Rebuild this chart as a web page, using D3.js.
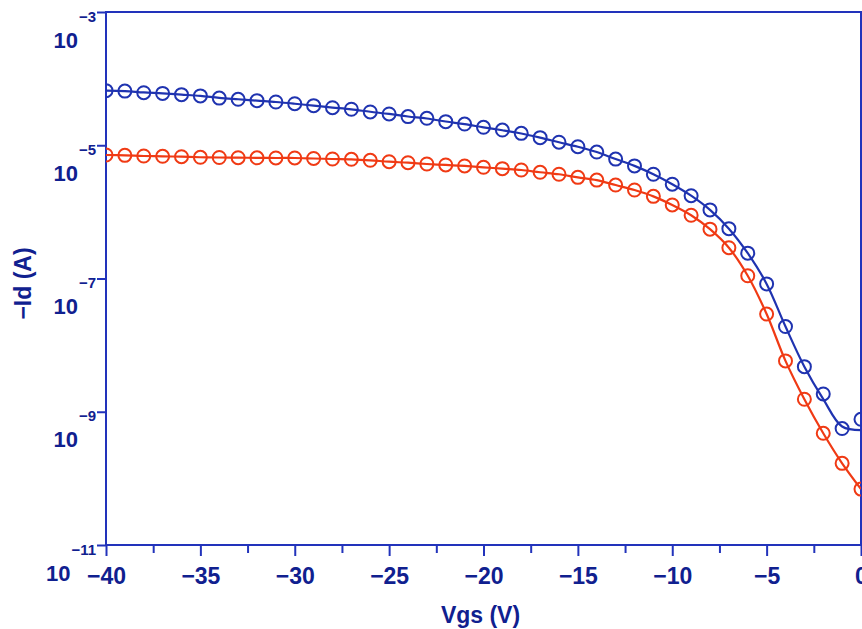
<!DOCTYPE html>
<html>
<head>
<meta charset="utf-8">
<script src="https://cdn.jsdelivr.net/npm/d3@7"></script>
<style>
  body { margin: 0; background: #fff; }
  svg { display: block; }
  text { font-family: "Liberation Sans", Arial, sans-serif; font-weight: bold; fill: #10208f; }
</style>
</head>
<body>
<div id="chart"></div>
<script>
// Gate voltage, one point per volt
var vgs = d3.range(-40, 1, 1);

var blueId = [6.6e-5, 6.5e-5, 6.15e-5, 6.0e-5, 5.75e-5, 5.5e-5, 5.1e-5, 4.9e-5, 4.67e-5, 4.46e-5,
              4.2e-5, 3.93e-5, 3.66e-5, 3.47e-5, 3.16e-5, 2.95e-5, 2.69e-5, 2.54e-5, 2.26e-5, 2.08e-5,
              1.86e-5, 1.69e-5, 1.51e-5, 1.30e-5, 1.11e-5, 9.5e-6, 7.9e-6, 6.2e-6, 4.9e-6, 3.67e-6,
              2.6e-6, 1.75e-6, 1.07e-6, 5.6e-7, 2.4e-7, 8.3e-8, 1.9e-8, 4.75e-9, 1.85e-9, 5.6e-10, 7.7e-10];

var redId = [7.14e-6, 7.06e-6, 6.9e-6, 6.83e-6, 6.73e-6, 6.6e-6, 6.55e-6, 6.5e-6, 6.48e-6, 6.44e-6,
             6.44e-6, 6.33e-6, 6.22e-6, 6.15e-6, 5.94e-6, 5.66e-6, 5.47e-6, 5.23e-6, 5.06e-6, 4.89e-6,
             4.67e-6, 4.45e-6, 4.25e-6, 3.93e-6, 3.67e-6, 3.3e-6, 3.0e-6, 2.53e-6, 2.13e-6, 1.71e-6,
             1.27e-6, 8.9e-7, 5.5e-7, 2.9e-7, 1.1e-7, 2.93e-8, 5.8e-9, 1.54e-9, 4.75e-10, 1.68e-10, 6.9e-11];

// Fitted curves drawn as lines
var blueFit = [6.6e-5, 6.5e-5, 6.2e-5, 6.0e-5, 5.75e-5, 5.5e-5, 5.15e-5, 4.9e-5, 4.67e-5, 4.46e-5,
               4.2e-5, 3.93e-5, 3.68e-5, 3.45e-5, 3.18e-5, 2.95e-5, 2.70e-5, 2.52e-5, 2.27e-5, 2.07e-5,
               1.86e-5, 1.68e-5, 1.50e-5, 1.30e-5, 1.11e-5, 9.5e-6, 7.9e-6, 6.2e-6, 4.9e-6, 3.67e-6,
               2.6e-6, 1.75e-6, 1.07e-6, 5.6e-7, 2.4e-7, 8.3e-8, 1.9e-8, 4.75e-9, 1.55e-9, 6.0e-10, 5.3e-10];

var redFit = redId;

var xTicks = [-40, -35, -30, -25, -20, -15, -10, -5, 0];
var xMinorTicks = [-37.5, -32.5, -27.5, -22.5, -17.5, -12.5, -7.5, -2.5];
var yExponents = [-3, -5, -7, -9, -11];

var axisColor = "#2233bb",
    textColor = "#10208f",
    blueColor = "#1f33b0",
    redColor = "#f03a14";

var margin = { top: 12, right: 1, bottom: 84, left: 106 },
    width = 862 - margin.left - margin.right,
    height = 629 - margin.top - margin.bottom;

var xScale = d3.scaleLinear()
    .domain([-40, 0])
    .range([0, width]);

var yScale = d3.scaleLog()
    .domain([1e-11, 1e-3])
    .range([height, 0]);

var svg = d3.select("#chart").append("svg")
    .attr("width", 862)
    .attr("height", 629)
  .append("g")
    .attr("transform", "translate(" + margin.left + "," + margin.top + ")");

svg.append("clipPath")
    .attr("id", "plot-clip")
  .append("rect")
    .attr("width", width)
    .attr("height", height);

// x axis: major and minor ticks hanging below the frame
var xAxis = svg.append("g")
    .attr("transform", "translate(0," + height + ")")
    .call(d3.axisBottom(xScale).tickValues(xTicks).tickSize(11).tickSizeOuter(0)
      .tickFormat(function(d) { return d < 0 ? "\u2212" + Math.abs(d) : d; }));

xAxis.select(".domain").remove();
xAxis.selectAll("line").attr("stroke", axisColor).attr("stroke-width", 2);
xAxis.selectAll("text")
    .attr("y", 39)
    .attr("dy", 0)
    .style("font-size", "23px")
    .style("font-family", "Liberation Sans, Arial, sans-serif")
    .attr("fill", textColor);

svg.append("g")
    .attr("transform", "translate(0," + height + ")")
    .call(d3.axisBottom(xScale).tickValues(xMinorTicks).tickSize(8).tickFormat(""))
    .call(function(g) { g.select(".domain").remove(); })
  .selectAll("line")
    .attr("stroke", axisColor)
    .attr("stroke-width", 2);

// y axis: outward ticks, labels as 10 with a raised exponent
var yAxis = svg.append("g")
    .call(d3.axisLeft(yScale).tickValues(yExponents.map(function(e) { return Math.pow(10, e); }))
      .tickSize(9).tickFormat(""));

yAxis.select(".domain").remove();
yAxis.selectAll("line").attr("stroke", axisColor).attr("stroke-width", 2);

var yLabels = svg.append("g")
    .attr("class", "y-labels");

yExponents.forEach(function(e) {
  var t = yLabels.append("text")
      .attr("x", -10)
      .attr("y", yScale(Math.pow(10, e)) + 35.5)
      .attr("text-anchor", "end");
  t.append("tspan")
      .style("font-size", "22px")
      .text("10");
  t.append("tspan")
      .attr("dx", 1)
      .attr("dy", -26)
      .style("font-size", "15px")
      .text("\u2212" + Math.abs(e));
});

// plot frame
svg.append("rect")
    .attr("width", width)
    .attr("height", height)
    .attr("fill", "none")
    .attr("stroke", axisColor)
    .attr("stroke-width", 2);

var line = d3.line()
    .x(function(d) { return xScale(d[0]); })
    .y(function(d) { return yScale(d[1]); })
    .curve(d3.curveCatmullRom.alpha(0.5));

var plot = svg.append("g")
    .attr("clip-path", "url(#plot-clip)");

var series = [
  { fit: blueFit, values: blueId, color: blueColor },
  { fit: redFit, values: redId, color: redColor }
];

series.forEach(function(s) {
  plot.append("path")
      .datum(vgs.map(function(v, i) { return [v, s.fit[i]]; }))
      .attr("fill", "none")
      .attr("stroke", s.color)
      .attr("stroke-width", 2.2)
      .attr("d", line);

  plot.selectAll(null)
      .data(vgs.map(function(v, i) { return [v, s.values[i]]; }))
    .enter().append("circle")
      .attr("cx", function(d) { return xScale(d[0]); })
      .attr("cy", function(d) { return yScale(d[1]); })
      .attr("r", 6.5)
      .attr("fill", "none")
      .attr("stroke", s.color)
      .attr("stroke-width", 2);
});

// axis titles
svg.append("text")
    .attr("x", width / 2 - 3)
    .attr("y", height + 78)
    .attr("text-anchor", "middle")
    .style("font-size", "23px")
    .text("Vgs (V)");

svg.append("text")
    .attr("transform", "translate(-75," + (height / 2 + 5) + ") rotate(-90)")
    .attr("text-anchor", "middle")
    .style("font-size", "23px")
    .text("\u2212Id (A)");
</script>
</body>
</html>
